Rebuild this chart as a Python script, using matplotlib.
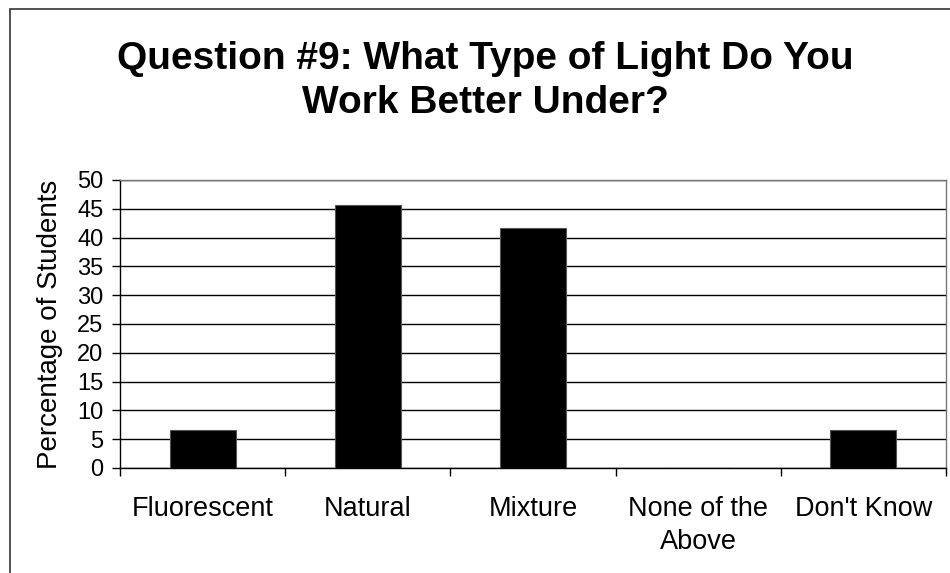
import matplotlib
matplotlib.use("Agg")
import matplotlib.pyplot as plt
from matplotlib.patches import Rectangle

plt.rcParams['font.family'] = ['Liberation Sans', 'DejaVu Sans']

categories = ["Fluorescent", "Natural", "Mixture", "None of the\nAbove", "Don't Know"]
percentages = [6.6, 45.6, 41.6, 0.0, 6.6]
y_ticks = [0, 5, 10, 15, 20, 25, 30, 35, 40, 45, 50]

fig = plt.figure(figsize=(9.5, 5.73), dpi=100)
fig.patch.set_facecolor("white")

# chart frame
fig.patches.append(Rectangle((10 / 950, -0.1), 1.2, 1 - 9 / 573 + 0.1,
                             transform=fig.transFigure, fill=False,
                             edgecolor="#333333", linewidth=1.2))

ax = fig.add_axes([120 / 950, 1 - 468 / 573, 826 / 950, 288 / 573])
x = list(range(len(categories)))
ax.bar(x, percentages, width=0.4, color="black", edgecolor="#555555",
       linewidth=0.8, zorder=3)

ax.set_xlim(-0.5, len(categories) - 0.5)
ax.set_ylim(0, 50)
ax.set_yticks(y_ticks)
ax.set_yticklabels([str(v) for v in y_ticks], fontsize=17)
ax.yaxis.grid(True, color="black", linewidth=1.0, zorder=0)
ax.set_axisbelow(True)

ax.set_xticks(x)
ax.set_xticklabels(categories, fontsize=19.5, linespacing=1.35)
ax.tick_params(axis="x", which="major", length=0, pad=20)
ax.set_xticks([i - 0.5 for i in range(len(categories) + 1)], minor=True)
ax.tick_params(axis="x", which="minor", length=6, width=1.0, direction="out")
ax.tick_params(axis="y", length=6, width=1.0, direction="out", pad=6)

for side in ["left", "bottom", "right", "top"]:
    ax.spines[side].set_color("black")
    ax.spines[side].set_linewidth(1.0)
ax.spines["top"].set_color("#777777")
ax.spines["right"].set_color("#777777")

ax.set_ylabel("Percentage of Students", fontsize=20, labelpad=10)

fig.text(485 / 950, 1 - 81 / 573,
         "Question #9: What Type of Light Do You\nWork Better Under?",
         ha="center", va="center", fontsize=28, fontweight="bold",
         linespacing=1.3)

fig.savefig("out.png", dpi=100, facecolor="white")
